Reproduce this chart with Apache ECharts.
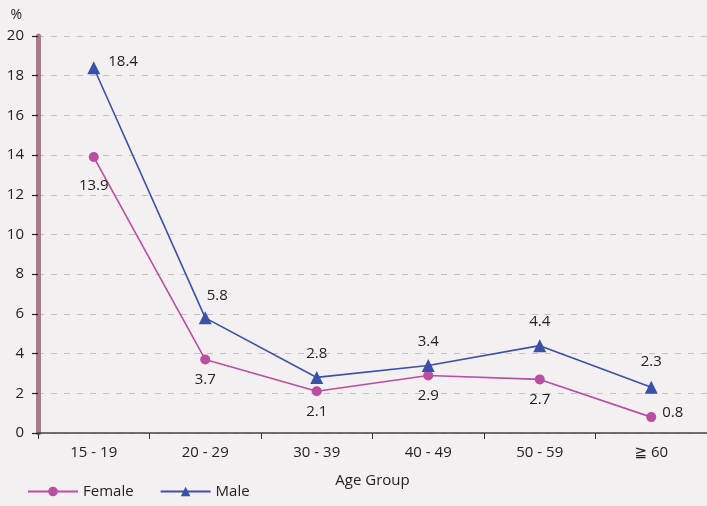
<!DOCTYPE html>
<html><head><meta charset="utf-8">
<script src="https://cdn.jsdelivr.net/npm/echarts@6/dist/echarts.min.js"></script>
<style>html,body{margin:0;padding:0;background:#f4f0f2;}#c{width:707px;height:506px;}</style>
</head><body><div id="c"></div>
<script>
const categories = ['15 - 19', '20 - 29', '30 - 39', '40 - 49', '50 - 59', '≧ 60'];
const female = [13.9, 3.7, 2.1, 2.9, 2.7, 0.8];
const male = [18.4, 5.8, 2.8, 3.4, 4.4, 2.3];
const femaleLabelPos = ['bottom', 'bottom', 'bottom', 'bottom', 'bottom', 'right'];
const maleLabelPos = ['right', 'top', 'top', 'top', 'top', 'top'];

const FONT = '"Open Sans", "DejaVu Sans", sans-serif';
const femaleOffsets = [[0, 8], [0, 0], [0, 0], [0, 0], [0, 0], [-2, -4]];
const maleOffsets = [[0, -6], [12, 0], [0, -2], [0, -2], [0, -2], [0, -4]];
const chart = echarts.init(document.getElementById('c'));
chart.setOption({
  backgroundColor: '#f4f0f2',
  textStyle: { fontFamily: FONT },
  grid: { left: 38, right: 0, top: 36, bottom: 73 },
  legend: {
    left: 22, bottom: 2, itemGap: 26, itemWidth: 50, itemHeight: 12,
    textStyle: { fontSize: 15, color: '#222', fontFamily: FONT },
    data: ['Female', 'Male']
  },
  xAxis: {
    type: 'category', data: categories, boundaryGap: true,
    name: 'Age Group', nameLocation: 'middle', nameGap: 40,
    nameTextStyle: { fontSize: 15, color: '#222' },
    axisLine: { lineStyle: { color: '#444', width: 1.5 } },
    axisTick: { show: true, length: 6, lineStyle: { color: '#333' } },
    axisLabel: { fontSize: 15, color: '#222', margin: 12 }
  },
  yAxis: {
    type: 'value', min: 0, max: 20, interval: 2,
    name: '%', nameLocation: 'end', nameGap: 14,
    nameTextStyle: { fontSize: 14, color: '#222', align: 'right', padding: [0, 16, 0, 0] },
    axisLine: { show: true, lineStyle: { color: '#a87a8c', width: 5 } },
    axisTick: { show: true, length: 6, lineStyle: { color: '#222', width: 1.2 } },
    axisLabel: { fontSize: 15, color: '#222', margin: 14 },
    splitLine: { show: true, lineStyle: { color: '#c4c0c2', type: [6, 7], width: 1 } }
  },
  series: [
    {
      name: 'Female', type: 'line', data: female.map((v, i) => ({ value: v, label: { position: femaleLabelPos[i], offset: femaleOffsets[i] } })),
      symbol: 'circle', symbolSize: 10,
      itemStyle: { color: '#b94fa0' }, lineStyle: { color: '#b94fa0', width: 1.6 },
      label: { show: true, fontSize: 15, color: '#222', distance: 8 }
    },
    {
      name: 'Male', type: 'line', data: male.map((v, i) => ({ value: v, label: { position: maleLabelPos[i], offset: maleOffsets[i] } })),
      symbol: 'triangle', symbolSize: 13,
      itemStyle: { color: '#3a52a6' }, lineStyle: { color: '#3a52a6', width: 1.6 },
      label: { show: true, fontSize: 15, color: '#222', distance: 8 }
    }
  ]
});
</script></body></html>
